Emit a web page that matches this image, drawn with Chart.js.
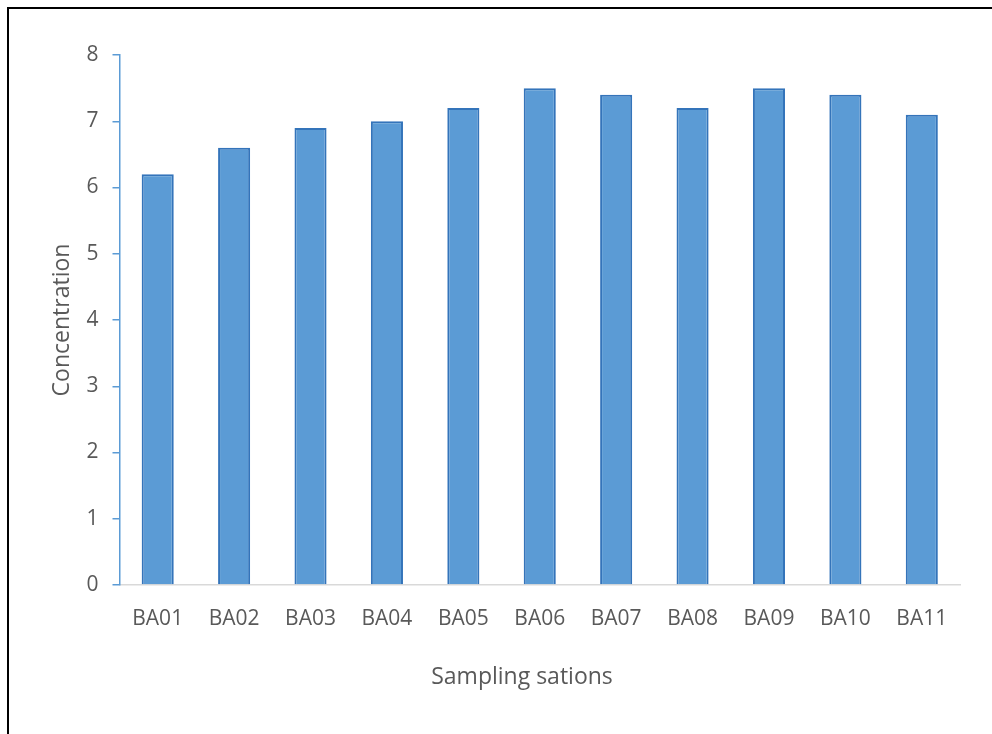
<!DOCTYPE html>
<html>
<head>
<meta charset="utf-8">
<script src="https://cdn.jsdelivr.net/npm/chart.js@4"></script>
<style>
  html, body { margin: 0; padding: 0; background: #ffffff; }
  #wrap { position: relative; width: 992px; height: 734px; overflow: hidden; }
  canvas { display: block; }
</style>
</head>
<body>
<div id="wrap"><canvas id="chart" width="992" height="734"></canvas></div>
<script>
// Sampling stations and measured concentration at each
const stations = ['BA01', 'BA02', 'BA03', 'BA04', 'BA05', 'BA06', 'BA07', 'BA08', 'BA09', 'BA10', 'BA11'];
const concentration = [6.2, 6.6, 6.9, 7.0, 7.2, 7.5, 7.4, 7.2, 7.5, 7.4, 7.1];
const yTicks = [0, 1, 2, 3, 4, 5, 6, 7, 8];
const xTitle = 'Sampling sations';
const yTitle = 'Concentration';

const textColor = '#595959';
const fontFamily = '"Open Sans", "Noto Sans", sans-serif';

// Black frame along the top and left edges, plus the category-axis caption
const framePlugin = {
  id: 'frame',
  afterDraw(chart) {
    const ctx = chart.ctx;
    ctx.save();
    ctx.strokeStyle = '#000000';
    ctx.lineWidth = 2;
    ctx.beginPath();
    ctx.moveTo(8, 734);
    ctx.lineTo(8, 8);
    ctx.lineTo(992, 8);
    ctx.stroke();

    ctx.fillStyle = textColor;
    ctx.font = '23px ' + fontFamily;
    ctx.textAlign = 'center';
    ctx.textBaseline = 'middle';
    ctx.fillText(xTitle, 522, 677);
    ctx.restore();
  }
};

new Chart(document.getElementById('chart'), {
  type: 'bar',
  data: {
    labels: stations,
    datasets: [{
      label: yTitle,
      data: concentration,
      backgroundColor: '#5B9BD5',
      borderColor: '#3474BA',
      borderWidth: 2,
      barPercentage: 0.42,
      categoryPercentage: 1
    }]
  },
  options: {
    responsive: false,
    animation: false,
    devicePixelRatio: 1,
    layout: { padding: { left: 0, right: 32, top: 55, bottom: 0 } },
    plugins: {
      legend: { display: false },
      tooltip: { enabled: false }
    },
    scales: {
      x: {
        grid: { display: false, drawTicks: false },
        border: { display: true, color: '#D9D9D9', width: 1.5 },
        ticks: {
          color: textColor,
          font: { family: fontFamily, size: 21 },
          padding: 21,
          maxRotation: 0
        },
        title: { display: false },
        afterFit(scale) { scale.height = 149; }
      },
      y: {
        min: 0,
        max: 8,
        afterBuildTicks(scale) { scale.ticks = yTicks.map(v => ({ value: v })); },
        grid: { drawOnChartArea: false, drawTicks: true, tickLength: 7, color: '#5B9BD5', lineWidth: 1.5 },
        border: { display: true, color: '#5B9BD5', width: 1.5 },
        ticks: {
          color: textColor,
          font: { family: fontFamily, size: 21 },
          padding: 14
        },
        title: {
          display: true,
          text: yTitle,
          color: textColor,
          font: { family: fontFamily, size: 23 },
          padding: { top: 49, bottom: 0 }
        },
        afterFit(scale) { scale.width = 119.5; }
      }
    }
  },
  plugins: [framePlugin]
});
</script>
</body>
</html>
